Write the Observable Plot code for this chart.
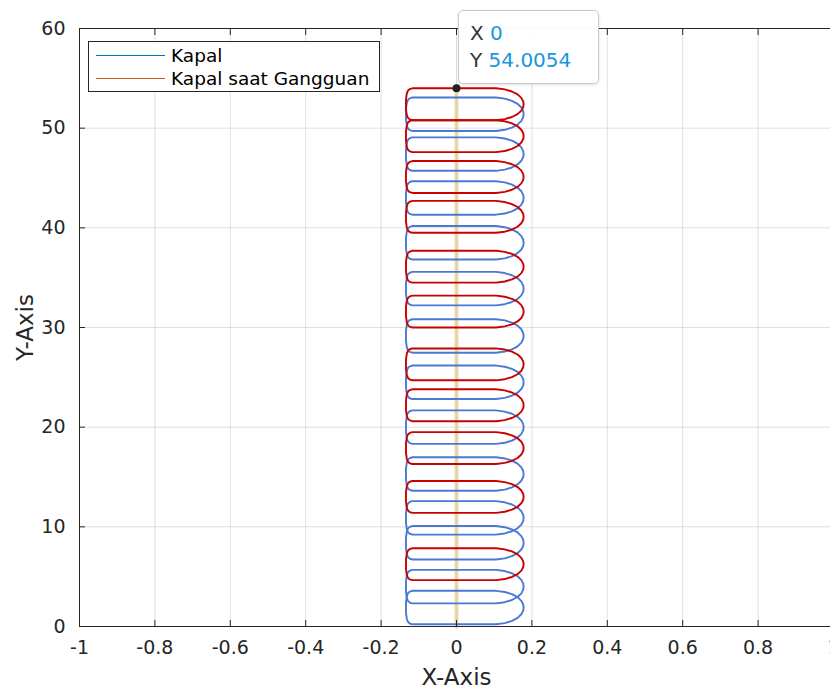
<!DOCTYPE html>
<html>
<head>
<meta charset="utf-8">
<script src="https://cdn.jsdelivr.net/npm/d3@7"></script>
<script src="https://cdn.jsdelivr.net/npm/@observablehq/plot@0.6"></script>
<style>
html, body { margin: 0; padding: 0; background: #fff; overflow: hidden; }
#wrap { position: relative; width: 830px; height: 689px; overflow: hidden; }
#wrap svg { max-width: none !important; }
#legend { position: absolute; left: 88px; top: 41px; width: 290px; height: 49px;
  border: 1px solid #262626; background: #fff;
  font-family: "DejaVu Sans", sans-serif; font-size: 18.5px; color: #000; }
#legend .row { position: absolute; left: 0; height: 22px; display: flex; align-items: center; }
#legend .sw { width: 69px; height: 0; border-top: 1.3px solid; margin-left: 7px; margin-right: 6px; }
#tip { position: absolute; left: 458px; top: 10px; width: 139px; height: 72px;
  background: rgba(255,255,255,0.97); border: 1px solid #c9c9c9; border-radius: 5px;
  box-shadow: 0 1px 3px rgba(0,0,0,0.12);
  font-family: "DejaVu Sans", sans-serif; font-size: 20px; color: #333; }
#tip .r { position: absolute; left: 11px; white-space: pre; }
#tip .v { color: #1a95e0; }
</style>
</head>
<body>
<div id="wrap"></div>
<script>
// ---- data ----
const xTicks = [-1, -0.8, -0.6, -0.4, -0.2, 0, 0.2, 0.4, 0.6, 0.8, 1];
const yTicks = [0, 10, 20, 30, 40, 50, 60];
const seriesNames = ["Kapal", "Kapal saat Gangguan"];
const seriesColors = ["#4a79d3", "#c80000"];
const legendColors = ["#0072BD", "#D95319"];

// ship centre positions (y) for each outline
const kapalCenters = [51.4, 47.4, 43.0, 38.5, 33.9, 29.15, 24.5, 20.0, 15.3, 10.9, 8.4, 4.0, 1.9];
const gangguanCenters = [52.4, 49.2, 45.1, 41.1, 36.1, 31.6, 26.3, 22.2, 17.9, 13.0, 6.25];
const kapalHalfLen = 1.68;
const gangguanHalfLen = 1.6;

// hull outline template (x, relative y in -1..1)
const hullX = [-0.117, 0.105, 0.128, 0.147, 0.162, 0.172, 0.177, 0.178, 0.177, 0.172, 0.162, 0.147, 0.128, 0.105,
               -0.117, -0.124, -0.129, -0.132, -0.134, -0.134, -0.134, -0.132, -0.129, -0.124, -0.117];
const hullV = [1, 1, 0.93, 0.80, 0.62, 0.40, 0.18, 0, -0.18, -0.40, -0.62, -0.80, -0.93, -1,
               -1, -0.95, -0.85, -0.65, -0.3, 0, 0.3, 0.65, 0.85, 0.95, 1];

// trajectory line and data tip
const trackX = [0, 0];
const trackY = [0, 54.0054];
const tipX = 0;
const tipY = 54.0054;

// ---- build tables ----
function outlines(centers, half, name) {
  const rows = [];
  centers.forEach((c, i) => {
    hullX.forEach((hx, j) => rows.push({ship: name + i, x: hx, y: c + hullV[j] * half}));
  });
  return rows;
}
const kapalRows = outlines(kapalCenters, kapalHalfLen, "k");
const gangguanRows = outlines(gangguanCenters, gangguanHalfLen, "g");
const trackRows = trackX.map((x, i) => ({x, y: trackY[i]}));

const fmt = d => String(+(+d).toFixed(1));

const chart = Plot.plot({
  width: 836, height: 689,
  marginLeft: 79, marginRight: 3, marginTop: 28, marginBottom: 63,
  x: {domain: [-1, 1]},
  y: {domain: [0, 60]},
  style: {fontFamily: "DejaVu Sans, sans-serif", fontSize: "19px", color: "#262626", background: "white", maxWidth: "none"},
  marks: [
    Plot.gridX(xTicks, {stroke: "#262626", strokeOpacity: 0.14}),
    Plot.gridY(yTicks, {stroke: "#262626", strokeOpacity: 0.14}),
    Plot.line(trackRows, {x: "x", y: "y", stroke: "#e3cf92", strokeWidth: 4, strokeOpacity: 0.75}),
    Plot.line(kapalRows, {x: "x", y: "y", z: "ship", stroke: seriesColors[0], strokeWidth: 1.9}),
    Plot.line(gangguanRows, {x: "x", y: "y", z: "ship", stroke: seriesColors[1], strokeWidth: 1.9}),
    Plot.dot([{x: tipX, y: tipY}], {x: "x", y: "y", r: 4, fill: "#222", stroke: "none"}),
    Plot.frame({stroke: "#262626"}),
    Plot.axisX(xTicks, {anchor: "bottom", tickSize: -6, tickPadding: 20, tickFormat: fmt, label: null, fontSize: 19}),
    Plot.axisX(xTicks, {anchor: "top", tickSize: -6, tickFormat: () => "", label: null}),
    Plot.axisY(yTicks, {anchor: "left", tickSize: -6, tickPadding: 20, tickFormat: fmt, label: null, fontSize: 19}),
    Plot.text(["X-Axis"], {text: d => d, frameAnchor: "bottom", lineAnchor: "middle", textAnchor: "middle", dy: 51, fontSize: 23, fill: "#262626"}),
    Plot.text(["Y-Axis"], {text: d => d, frameAnchor: "left", lineAnchor: "middle", textAnchor: "middle", dx: -54, rotate: -90, fontSize: 23, fill: "#262626"})
  ]
});

const wrap = document.getElementById("wrap");
wrap.appendChild(chart);

// legend (inside plot area, as in the reference)
const legend = document.createElement("div");
legend.id = "legend";
seriesNames.forEach((name, i) => {
  const row = document.createElement("div");
  row.className = "row";
  row.style.top = (i === 0 ? 2 : 25) + "px";
  const sw = document.createElement("span");
  sw.className = "sw";
  sw.style.borderTopColor = legendColors[i];
  const t = document.createElement("span");
  t.textContent = name;
  row.appendChild(sw);
  row.appendChild(t);
  legend.appendChild(row);
});
wrap.appendChild(legend);

// data tip box
const tip = document.createElement("div");
tip.id = "tip";
tip.innerHTML = `<div class="r" style="top:10px">X <span class="v">${tipX}</span></div>` +
                `<div class="r" style="top:37px">Y <span class="v">${tipY.toFixed(4)}</span></div>`;
wrap.appendChild(tip);
</script>
</body>
</html>
